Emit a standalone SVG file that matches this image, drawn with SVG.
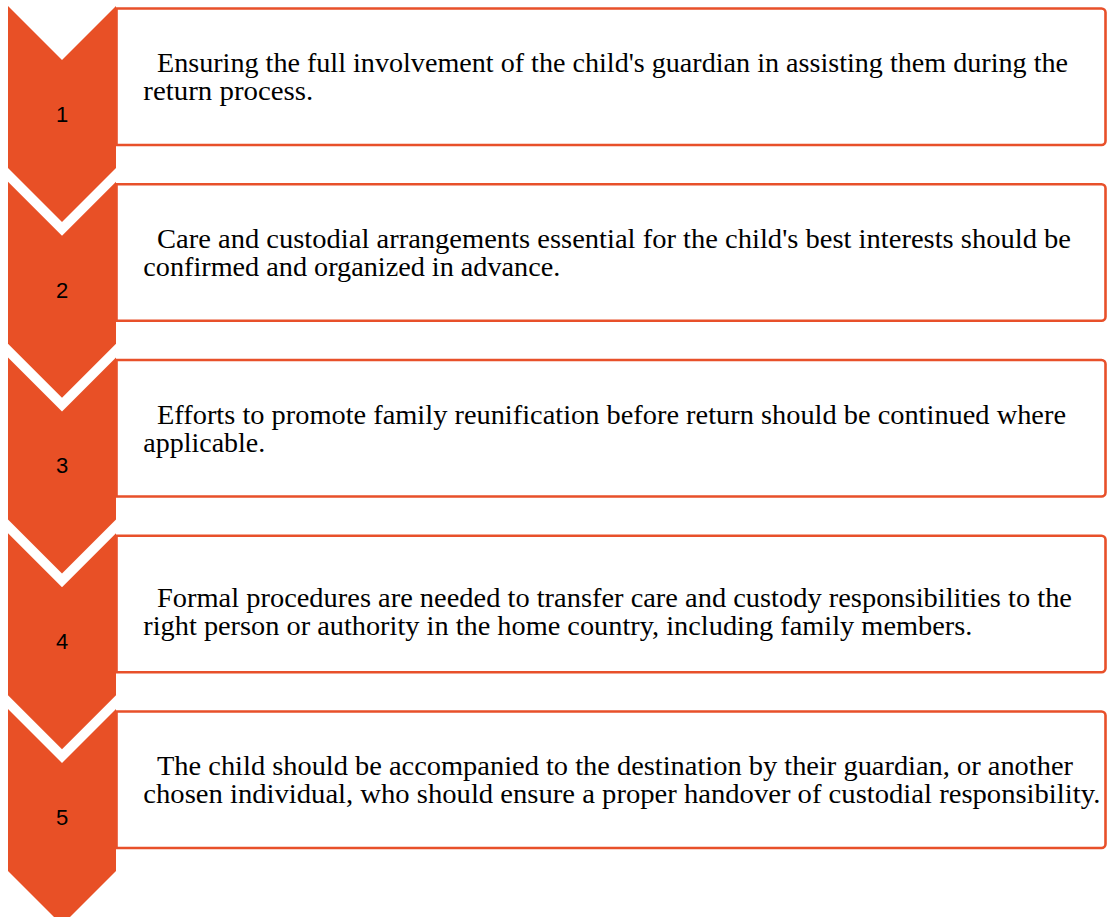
<svg xmlns="http://www.w3.org/2000/svg" width="1107" height="917" viewBox="0 0 1107 917">
<style>
.box{fill:#fff;stroke:#E8502A;stroke-width:2.6}
.chev{fill:#E85026}
.num{font-family:"Liberation Sans",Arial,sans-serif;font-size:22px;fill:#000;text-anchor:middle}
.txt{font-family:"Liberation Serif","Times New Roman",serif;font-size:27px;fill:#000}
</style>
<rect width="1107" height="917" fill="#fff"/>
<g id="boxes">
<g id="box1"><path class="box" d="M116.5,8.5 H1101.5 a4,4 0 0 1 4,4 V141 a4,4 0 0 1 -4,4 H116.5 Z"/>
<text class="txt" x="157" y="72.3" textLength="911" lengthAdjust="spacingAndGlyphs">Ensuring the full involvement of the child's guardian in assisting them during the</text>
<text class="txt" x="143.3" y="100.3" textLength="170" lengthAdjust="spacingAndGlyphs">return process.</text></g>
<g id="box2"><path class="box" d="M116.5,184.25 H1101.5 a4,4 0 0 1 4,4 V316.75 a4,4 0 0 1 -4,4 H116.5 Z"/>
<text class="txt" x="157" y="248" textLength="914" lengthAdjust="spacingAndGlyphs">Care and custodial arrangements essential for the child's best interests should be</text>
<text class="txt" x="143.3" y="276.3" textLength="417" lengthAdjust="spacingAndGlyphs">confirmed and organized in advance.</text></g>
<g id="box3"><path class="box" d="M116.5,360 H1101.5 a4,4 0 0 1 4,4 V492.5 a4,4 0 0 1 -4,4 H116.5 Z"/>
<text class="txt" x="157" y="423.8" textLength="909" lengthAdjust="spacingAndGlyphs">Efforts to promote family reunification before return should be continued where</text>
<text class="txt" x="143.3" y="452" textLength="122" lengthAdjust="spacingAndGlyphs">applicable.</text></g>
<g id="box4"><path class="box" d="M116.5,535.75 H1101.5 a4,4 0 0 1 4,4 V668.25 a4,4 0 0 1 -4,4 H116.5 Z"/>
<text class="txt" x="157" y="606.7" textLength="915" lengthAdjust="spacingAndGlyphs">Formal procedures are needed to transfer care and custody responsibilities to the</text>
<text class="txt" x="143.3" y="635" textLength="829" lengthAdjust="spacingAndGlyphs">right person or authority in the home country, including family members.</text></g>
<g id="box5"><path class="box" d="M116.5,711.5 H1101.5 a4,4 0 0 1 4,4 V844 a4,4 0 0 1 -4,4 H116.5 Z"/>
<text class="txt" x="157" y="775" textLength="916" lengthAdjust="spacingAndGlyphs">The child should be accompanied to the destination by their guardian, or another</text>
<text class="txt" x="143.3" y="803.3" textLength="957" lengthAdjust="spacingAndGlyphs">chosen individual, who should ensure a proper handover of custodial responsibility.</text></g>
</g>
<g id="connectors"></g>
<g id="step1"><polygon class="chev" points="8,6 62,60 116,6 116,168 62,222 8,168"/><text class="num" x="62" y="121.7">1</text></g>
<g id="step2"><polygon class="chev" points="8,181.75 62,235.75 116,181.75 116,343.75 62,397.75 8,343.75"/><text class="num" x="62" y="297.5">2</text></g>
<g id="step3"><polygon class="chev" points="8,357.5 62,411.5 116,357.5 116,519.5 62,573.5 8,519.5"/><text class="num" x="62" y="473.3">3</text></g>
<g id="step4"><polygon class="chev" points="8,533.25 62,587.25 116,533.25 116,695.25 62,749.25 8,695.25"/><text class="num" x="62" y="649">4</text></g>
<g id="step5"><polygon class="chev" points="8,709 62,763 116,709 116,871 62,925 8,871"/><text class="num" x="62" y="824.8">5</text></g>
</svg>
